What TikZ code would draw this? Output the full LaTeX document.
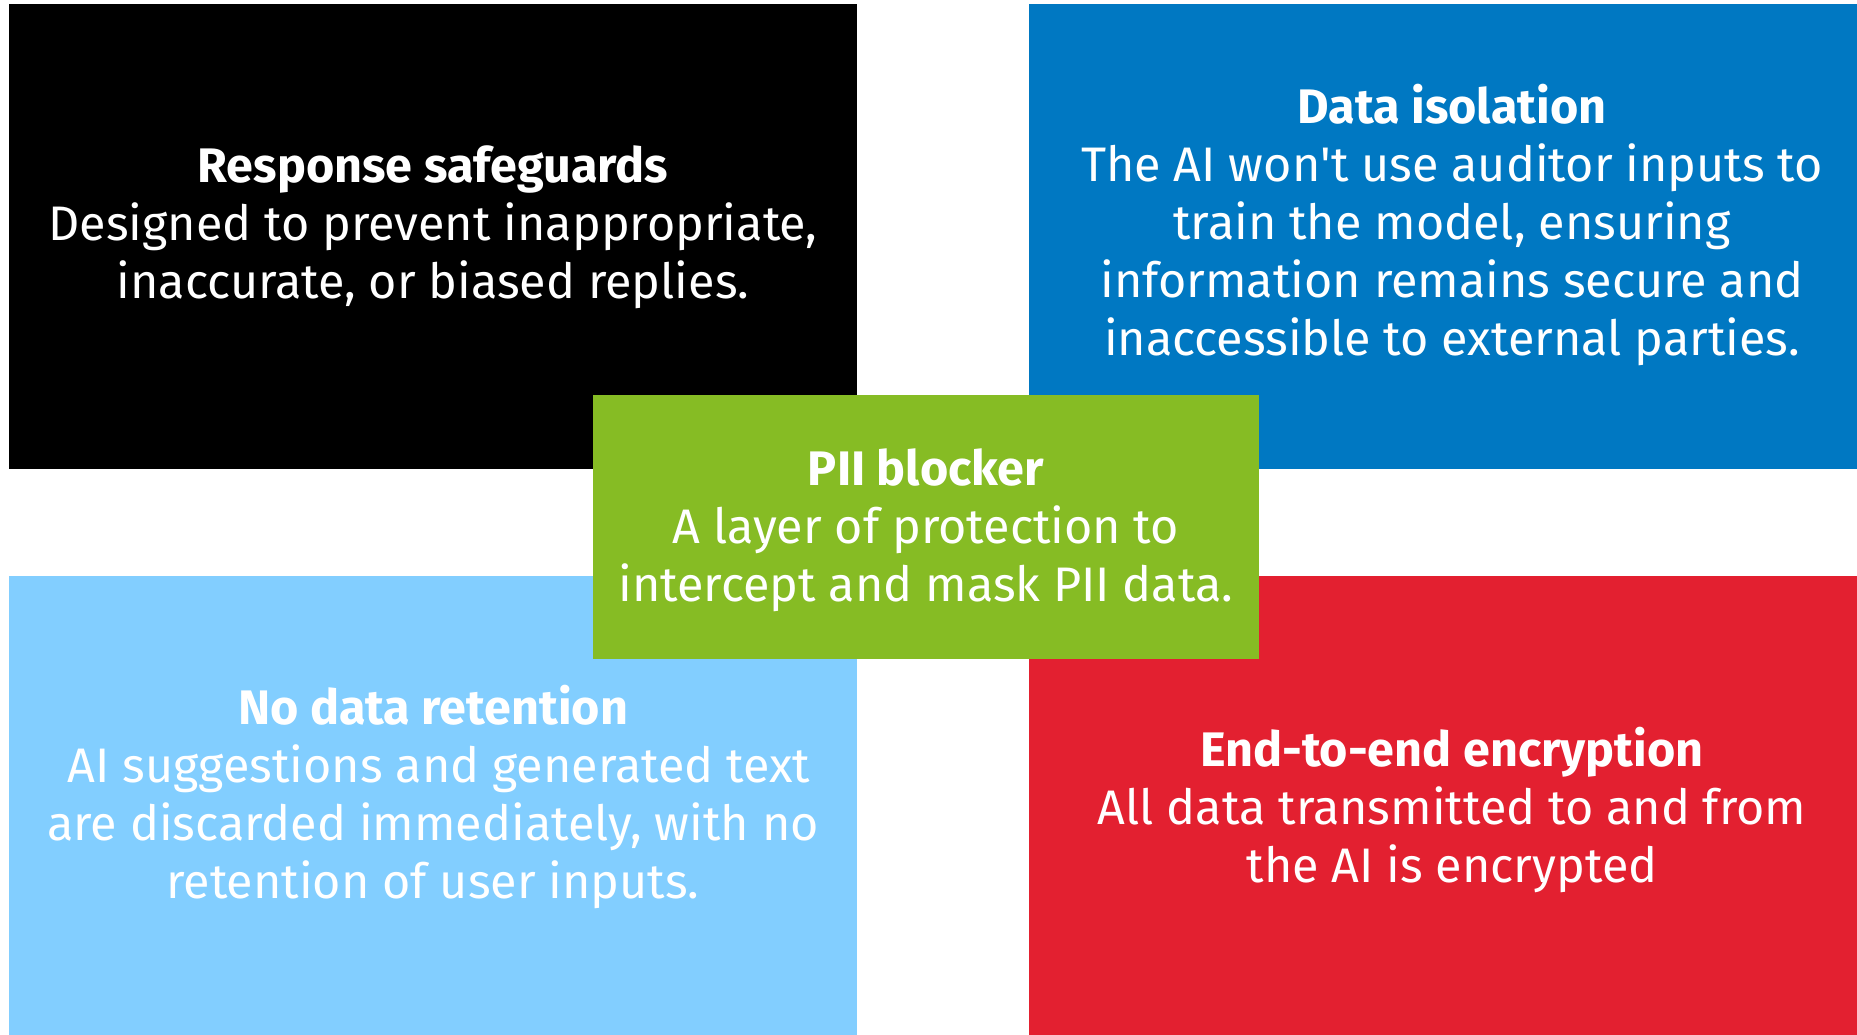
\documentclass[tikz,border=0pt]{standalone}
\usepackage{fontspec}
\setmainfont{Fira Sans}[Ligatures=TeXOff]
\definecolor{cblue}{RGB}{0,120,194}
\definecolor{clight}{RGB}{130,206,255}
\definecolor{cred}{RGB}{227,32,48}
\definecolor{cgreen}{RGB}{134,188,36}
\begin{document}
\begin{tikzpicture}[x=1pt,y=-1pt,
  panel/.style={draw=none,inner sep=0pt,outer sep=0pt,anchor=north west},
  label/.style={text=white,inner sep=0pt,outer sep=0pt,align=center,anchor=center,
    font=\fontsize{48.5}{58}\selectfont}]
\useasboundingbox[fill=white] (0,0) rectangle (1857,1035);
\node[panel,fill=black,minimum width=848pt,minimum height=465pt] (black) at (9,4) {};
\node[panel,fill=cblue,minimum width=828pt,minimum height=465pt] (blue) at (1029,4) {};
\node[panel,fill=clight,minimum width=848pt,minimum height=459pt] (light) at (9,576) {};
\node[panel,fill=cred,minimum width=828pt,minimum height=459pt] (red) at (1029,576) {};
\node[panel,fill=cgreen,minimum width=666pt,minimum height=264pt] (green) at (593,395) {};

\node[label] (tblack) at (433,228.4) {\strut\textbf{Response safeguards}\\\strut Designed to prevent inappropriate,\\\strut inaccurate, or biased replies.};
\node[label] (tblue) at (1452,227.7) {\strut\textbf{Data isolation}\\\strut The AI won't use auditor inputs to\\\strut train the model, ensuring\\\strut information remains secure and\\\strut inaccessible to external parties.};
\node[label] (tlight) at (433,800) {\strut\textbf{No data retention}\\\strut\hspace*{0.25em}AI suggestions and generated text\\\strut are discarded immediately, with no\\\strut retention of user inputs.};
\node[label] (tred) at (1452,813) {\strut\textbf{End-to-end encryption}\\\strut All data transmitted to and from\\\strut the AI is encrypted};
\node[label] (tgreen) at (926,531.4) {\strut\textbf{PII blocker}\\\strut A layer of protection to\\\strut intercept and mask PII data.};
\end{tikzpicture}
\end{document}
